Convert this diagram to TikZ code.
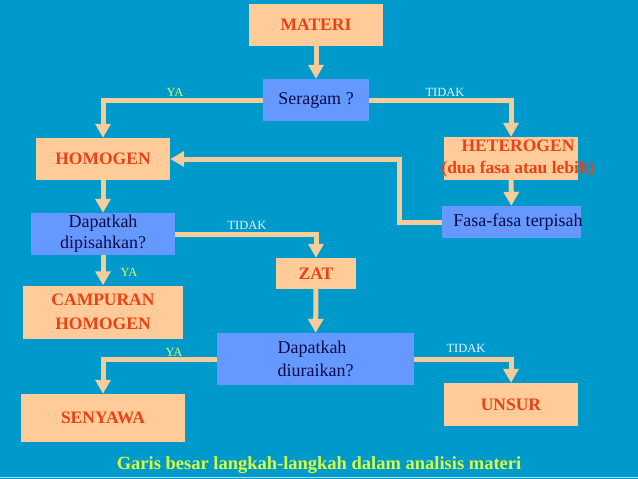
\documentclass[tikz,border=0pt]{standalone}
\usepackage{fontspec}
\setmainfont{Liberation Serif}
\usetikzlibrary{arrows.meta}
\definecolor{bg}{HTML}{0099CC}
\definecolor{peach}{HTML}{FFCC99}
\definecolor{boxblue}{HTML}{6699FF}
\definecolor{redtxt}{RGB}{235,65,20}
\definecolor{navytxt}{RGB}{10,10,70}
\definecolor{connc}{RGB}{245,205,155}
\definecolor{yalbl}{RGB}{210,255,100}
\definecolor{tidaklbl}{RGB}{225,250,255}
\definecolor{captc}{RGB}{215,255,60}
\definecolor{edgec}{RGB}{170,220,240}
\begin{document}
\begin{tikzpicture}[x=1pt,y=-1pt,
  pbox/.style={fill=peach, inner sep=0pt, text=redtxt, font=\fontsize{17.5}{21}\selectfont\bfseries, align=center},
  bbox/.style={fill=boxblue, inner sep=0pt, text=navytxt, font=\fontsize{18}{21}\selectfont, align=center},
  conn/.style={draw=connc, line width=5pt, -{Triangle[width=15pt,length=14pt]}},
  yalab/.style={text=yalbl, font=\fontsize{12.5}{14}\selectfont, inner sep=0pt},
  tidaklab/.style={text=tidaklbl, font=\fontsize{12.5}{14}\selectfont, inner sep=0pt}]
\fill[bg] (0,0) rectangle (638,479);
\useasboundingbox (0,0) rectangle (638,479);
\draw[edgec, line width=1.5pt] (0,477.5) -- (638,477.5);

\node[pbox, minimum width=134pt, minimum height=42pt] (materi) at (316,25) {MATERI};
\node[bbox, minimum width=106pt, minimum height=42pt] (seragam) at (316,100) {Seragam ?};
\node[pbox, minimum width=134pt, minimum height=42pt] (homogen) at (103,159) {HOMOGEN};
\node[pbox, minimum width=134pt, minimum height=43pt,
  label={[pbox, fill=none, xshift=7pt]center:HETEROGEN\\[1pt](dua fasa atau lebih)}] (heterogen) at (511,158.5) {};
\node[bbox, minimum width=139pt, minimum height=32pt,
  label={[bbox, fill=none, xshift=6.5pt]center:Fasa-fasa terpisah}] (fasa) at (511.5,222) {};
\node[bbox, minimum width=144pt, minimum height=42pt] (dapat1) at (103,234) {Dapatkah\\dipisahkan?};
\node[pbox, minimum width=160pt, minimum height=53pt] (campuran) at (103,312) {CAMPURAN\\[2.5pt]HOMOGEN};
\node[pbox, minimum width=80pt, minimum height=31pt] (zat) at (316,273.5) {ZAT};
\node[bbox, minimum width=197pt, minimum height=52pt, align=left] (dapat2) at (315.5,359) {Dapatkah\\[2pt]diuraikan?};
\node[pbox, minimum width=164pt, minimum height=48pt] (senyawa) at (103,418) {SENYAWA};
\node[pbox, minimum width=134pt, minimum height=43pt] (unsur) at (511,404.5) {UNSUR};

\draw[conn] (materi) -- (seragam);
\draw[conn] (seragam.west) -| (homogen.north);
\draw[conn] (seragam.east) -| (heterogen.north);
\draw[conn] (heterogen) -- (fasa);
\draw[conn] (fasa.west) -- ++(-42,0) |- (homogen.east);
\draw[conn] (homogen) -- (dapat1);
\draw[conn] (dapat1.east) -| (zat.north);
\draw[conn] (dapat1) -- (campuran);
\draw[conn] (zat) -- (dapat2);
\draw[conn] (dapat2.west) -| (senyawa.north);
\draw[conn] (dapat2.east) -| (unsur.north);

\node[yalab] (ya1) at (175,92) {YA};
\node[tidaklab] (tidak1) at (445,92) {TIDAK};
\node[tidaklab] (tidak2) at (247,225) {TIDAK};
\node[yalab] (ya2) at (129,272) {YA};
\node[yalab] (ya3) at (174,352) {YA};
\node[tidaklab] (tidak3) at (466,348) {TIDAK};

\node[text=captc, font=\fontsize{18.5}{22}\selectfont\bfseries, inner sep=0pt] (caption) at (319,465) {Garis besar langkah-langkah dalam analisis materi};
\end{tikzpicture}
\end{document}
